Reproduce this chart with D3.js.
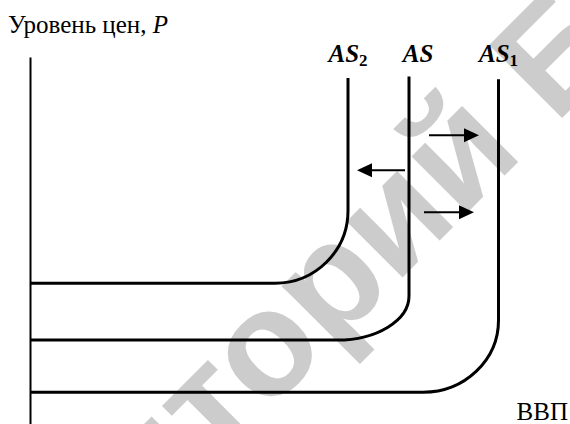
<!DOCTYPE html>
<html>
<head>
<meta charset="utf-8">
<script src="https://cdn.jsdelivr.net/npm/d3@7"></script>
<style>
  body { margin: 0; background: #fff; }
  svg { display: block; }
  .serif { font-family: "Liberation Serif", "Times New Roman", "DejaVu Serif", serif; }
</style>
</head>
<body>
<div id="chart"></div>
<script>
// AS curves: AS2, AS, AS1 (x = ВВП, y = уровень цен, условные единицы)
var curveSubs = ["2", "", "1"];
var verticalGdp = [63.6, 75.8, 93.7];
var topPrice = [99.0, 99.4, 98.6];
var bendPrice = [61.0, 36.6, 29.7];
var bendGdp = [49.0, 61.4, 78.6];
var floorPrice = [40.3, 24.0, 9.1];

// shift arrows
var arrowPrice = [82.6, 72.6, 60.6];
var arrowFrom = [79.8, 75.0, 78.8];
var arrowTo = [89.8, 65.4, 88.8];

var width = 570, height = 424;

var svg = d3.select("#chart").append("svg")
    .attr("width", width)
    .attr("height", height);

var x = d3.scaleLinear().domain([0, 100]).range([30, 530]);
var y = d3.scaleLinear().domain([0, 105]).range([424, 57]);

// Watermark (drawn first, under the lines)
var wmFont = "bold 150px 'Liberation Sans', Arial, sans-serif";
var wm = svg.append("g")
    .attr("transform", "translate(267,413) rotate(-45)");
var tmp = wm.append("text").style("font", wmFont).text("Репозит");
var prefixLen = tmp.node().getComputedTextLength();
tmp.remove();
wm.append("text")
    .attr("x", -prefixLen)
    .attr("y", 0)
    .style("font", wmFont)
    .attr("fill", "#cccccc")
    .text("Репозиторий БГУИР");

// Price axis
svg.append("g")
    .attr("transform", "translate(" + x(0) + ",0)")
    .call(d3.axisLeft(y).tickValues([]).tickSizeOuter(0))
    .select(".domain")
    .attr("stroke", "#000")
    .attr("stroke-width", 2);

// AS curves
var k = 0.5523;
function curvePath(i) {
    var p = d3.path();
    var x0 = x(bendGdp[i]), x1 = x(verticalGdp[i]);
    var yF = y(floorPrice[i]), yB = y(bendPrice[i]);
    p.moveTo(x(0), yF);
    p.lineTo(x0, yF);
    p.bezierCurveTo(x0 + k * (x1 - x0), yF, x1, yB + k * (yF - yB), x1, yB);
    p.lineTo(x1, y(topPrice[i]));
    return p.toString();
}

svg.selectAll(".as-curve")
    .data(curveSubs)
    .enter().append("path")
    .attr("class", "as-curve")
    .attr("d", function(d, i) { return curvePath(i); })
    .attr("fill", "none")
    .attr("stroke", "#000")
    .attr("stroke-width", 3);

// Curve labels
var labels = svg.selectAll(".as-label")
    .data(curveSubs)
    .enter().append("text")
    .attr("class", "as-label serif")
    .attr("x", function(d, i) { return x(verticalGdp[i]) + (d === "" ? 9 : 0); })
    .attr("y", 62)
    .attr("text-anchor", "middle")
    .style("font-size", "25px")
    .style("font-weight", "bold")
    .style("font-style", "italic");
labels.append("tspan").text("AS");
labels.append("tspan")
    .attr("dy", 4)
    .style("font-size", "17px")
    .style("font-style", "normal")
    .text(function(d) { return d; });

// Arrows
var headLen = 15, headHalf = 7;
var arrows = svg.selectAll(".shift")
    .data(arrowPrice)
    .enter().append("g")
    .attr("class", "shift");
arrows.append("line")
    .attr("x1", function(d, i) { return x(arrowFrom[i]); })
    .attr("x2", function(d, i) {
        var dir = Math.sign(arrowTo[i] - arrowFrom[i]);
        return x(arrowTo[i]) - dir * (headLen - 2);
    })
    .attr("y1", function(d) { return y(d); })
    .attr("y2", function(d) { return y(d); })
    .attr("stroke", "#000")
    .attr("stroke-width", 2);
arrows.append("path")
    .attr("d", function(d, i) {
        var dir = Math.sign(arrowTo[i] - arrowFrom[i]);
        var tx = x(arrowTo[i]), ty = y(d);
        var p = d3.path();
        p.moveTo(tx, ty);
        p.lineTo(tx - dir * headLen, ty - headHalf);
        p.lineTo(tx - dir * headLen, ty + headHalf);
        p.closePath();
        return p.toString();
    })
    .attr("fill", "#000");

// Axis titles
var yTitle = svg.append("text")
    .attr("class", "serif")
    .attr("x", 8)
    .attr("y", 33)
    .style("font-size", "25px");
yTitle.append("tspan").text("Уровень цен, ");
yTitle.append("tspan").style("font-style", "italic").text("P");

svg.append("text")
    .attr("class", "serif")
    .attr("x", 568)
    .attr("y", 420)
    .attr("text-anchor", "end")
    .style("font-size", "25px")
    .text("ВВП");
</script>
</body>
</html>
